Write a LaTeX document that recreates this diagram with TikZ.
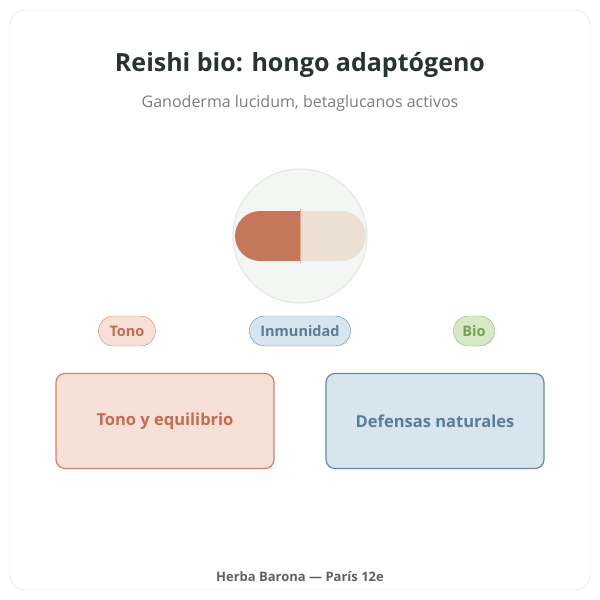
\documentclass[tikz,border=0pt]{standalone}
\usepackage{fontspec}
\setmainfont{Open Sans}
\definecolor{ink}{HTML}{2B332E}
\definecolor{mute}{HTML}{7A7F7C}
\definecolor{rust}{HTML}{C4775A}
\definecolor{rustline}{HTML}{D6815F}
\definecolor{rustfill}{HTML}{F6E0D8}
\definecolor{rusttext}{HTML}{C36D50}
\definecolor{sky}{HTML}{D6E5EE}
\definecolor{skyline}{HTML}{6488A5}
\definecolor{skytext}{HTML}{5B7C97}
\definecolor{leaf}{HTML}{D6E8C4}
\definecolor{leafline}{HTML}{8BB56A}
\definecolor{leaftext}{HTML}{76A352}
\definecolor{cream}{HTML}{ECE0D4}
\definecolor{disc}{HTML}{F4F6F3}
\definecolor{discline}{HTML}{E2E7E1}
\begin{document}
\begin{tikzpicture}[x=1pt,y=-1pt,
    pill/.style={rounded corners=15pt,minimum height=30pt,inner xsep=11pt,font=\bfseries\fontsize{14.5}{16}\selectfont},
    card/.style={rounded corners=9pt,minimum width=218pt,minimum height=95pt,line width=1.2pt,font=\bfseries\fontsize{16.5}{19}\selectfont}]
\useasboundingbox (0,0) rectangle (600,600);
\draw[black!12,fill=white,rounded corners=15pt] (10,10) rectangle (590,590);
\node[text=ink,font=\bfseries\fontsize{25}{29}\selectfont] (title) at (300,65) {Reishi bio: hongo adaptógeno};
\node[text=mute,font=\fontsize{16}{19}\selectfont] (sub) at (300,103) {Ganoderma lucidum, betaglucanos activos};
% capsule
\draw[fill=disc,draw=discline,line width=1pt] (300,236) circle (67);
\fill[rust] (300,211) -- (260,211) arc[start angle=270,end angle=90,radius=25] -- (300,261) -- cycle;
\fill[cream] (300,211) -- (341,211) arc[start angle=270,end angle=450,radius=25] -- (300,261) -- cycle;
\draw[rustline!70,line width=1pt] (300,209) -- (300,263);
% tags
\node[pill,fill=rustfill,draw=rustline,text=rusttext] (tono) at (127,331) {Tono};
\node[pill,fill=sky,draw=skyline,text=skytext] (inmu) at (300,331) {Inmunidad};
\node[pill,fill=leaf,draw=leafline,text=leaftext,inner xsep=9pt] (bio) at (474,331) {Bio};
% cards
\node[card,fill=rustfill,draw=rustline,text=rusttext] (equil) at (165,421) {Tono y equilibrio};
\node[card,fill=sky,draw=skyline,text=skytext] (defen) at (435,421) {Defensas naturales};
\node[text=black!62,font=\fontseries{sb}\fontsize{13}{15}\selectfont] (foot) at (300,577) {Herba Barona — París 12e};
\end{tikzpicture}
\end{document}
